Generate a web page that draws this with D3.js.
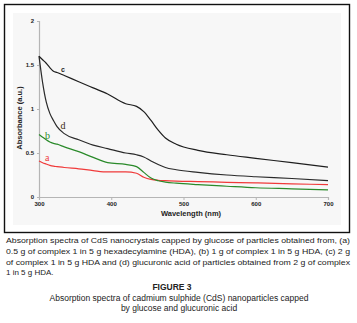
<!DOCTYPE html>
<html>
<head>
<meta charset="utf-8">
<script src="https://cdn.jsdelivr.net/npm/d3@7"></script>
<style>
  body { margin: 0; background: #fff; }
  svg { display: block; font-family: "Liberation Sans", Arial, sans-serif; }
</style>
</head>
<body>
<div id="chart"></div>
<script>
// wavelengths (nm) shared by every spectrum
const wavelengths = [300, 305, 310, 315, 320, 325, 335, 355, 375, 395, 420, 435, 445, 455, 465, 475, 490, 520, 560, 600, 650, 700];

// absorbance (a.u.)
const seriesA = [0.41, 0.39, 0.375, 0.36, 0.35, 0.345, 0.335, 0.32, 0.30, 0.285, 0.285, 0.27, 0.225, 0.20, 0.19, 0.186, 0.18, 0.175, 0.167, 0.16, 0.15, 0.14];
const seriesB = [0.71, 0.68, 0.65, 0.625, 0.61, 0.60, 0.57, 0.515, 0.45, 0.39, 0.37, 0.345, 0.28, 0.215, 0.185, 0.17, 0.157, 0.14, 0.122, 0.105, 0.093, 0.08];
const seriesC = [1.60, 1.56, 1.52, 1.47, 1.43, 1.415, 1.38, 1.31, 1.24, 1.17, 1.06, 1.03, 0.97, 0.87, 0.76, 0.67, 0.60, 0.53, 0.48, 0.44, 0.39, 0.34];
const seriesD = [1.60, 1.30, 1.08, 0.95, 0.87, 0.80, 0.72, 0.65, 0.59, 0.55, 0.50, 0.48, 0.455, 0.41, 0.37, 0.335, 0.31, 0.28, 0.25, 0.23, 0.21, 0.185];

const xTicks = [300, 400, 500, 600, 700];
const yTicks = [0, 0.5, 1, 1.5, 2];

const captionLines = [
  "Absorption spectra of CdS nanocrystals capped by glucose of particles obtained from, (a)",
  "0.5 g of complex 1 in 5 g hexadecylamine (HDA), (b) 1 g of complex 1 in 5 g HDA, (c) 2 g",
  "of complex 1 in 5 g HDA and (d) glucuronic acid of particles obtained from 2 g of complex",
  "1 in 5 g HDA."
];
const figTitle = "FIGURE 3";
const figSubtitle = [
  "Absorption spectra of cadmium sulphide (CdS) nanoparticles capped",
  "by glucose and glucuronic acid"
];

const series = [
  { name: "a", values: seriesA, color: "#f03a3a", lx: 45, ly: 161, font: "serif" },
  { name: "b", values: seriesB, color: "#2a8a2a", lx: 45, ly: 138.5, font: "serif" },
  { name: "d", values: seriesD, color: "#2a2a2a", lx: 60.5, ly: 128.5, font: "serif" },
  { name: "c", values: seriesC, color: "#1e1e1e", lx: 61, ly: 71.5, font: "sans" }
];

const width = 357, height = 323;

const svg = d3.select("#chart")
  .append("svg")
    .attr("width", width)
    .attr("height", height);

// frame + plot background
svg.append("rect")
  .attr("x", 4.5).attr("y", 4.5)
  .attr("width", 345).attr("height", 228)
  .attr("fill", "#fff")
  .attr("stroke", "#111")
  .attr("stroke-width", 1.4);

svg.append("rect")
  .attr("x", 13).attr("y", 13)
  .attr("width", 328).attr("height", 212)
  .attr("fill", "#f7f7f7");

const x = d3.scaleLinear().domain([300, 700]).range([39, 328]);
const y = d3.scaleLinear().domain([0, 2]).range([197, 21]);

// axes
const xAxis = svg.append("g")
  .attr("transform", `translate(0,${y(0)})`)
  .call(d3.axisBottom(x).tickValues(xTicks).tickSize(3).tickPadding(2));

const yAxis = svg.append("g")
  .attr("transform", `translate(${x(300)},0)`)
  .call(d3.axisLeft(y).tickValues(yTicks).tickFormat(d => d).tickSize(2).tickPadding(3));

[xAxis, yAxis].forEach(g => {
  g.select(".domain").attr("stroke", "#b5b5b5").attr("stroke-width", 1.2);
  g.selectAll(".tick line").attr("stroke", "#b5b5b5");
  g.selectAll(".tick text")
    .attr("fill", "#222")
    .style("font-size", "6px")
    .style("font-weight", "bold");
});

svg.append("text")
  .attr("x", 191).attr("y", 216)
  .attr("text-anchor", "middle")
  .style("font-size", "7.5px")
  .style("font-weight", "bold")
  .attr("fill", "#222")
  .text("Wavelength (nm)");

svg.append("text")
  .attr("transform", "translate(22,118) rotate(-90)")
  .attr("text-anchor", "middle")
  .style("font-size", "7.5px")
  .style("font-weight", "bold")
  .attr("fill", "#222")
  .text("Absorbance (a.u.)");

// spectra
const line = d3.line()
  .x((d, i) => x(wavelengths[i]))
  .y(d => y(d))
  .curve(d3.curveMonotoneX);

svg.selectAll("path.spectrum")
  .data(series)
  .join("path")
    .attr("class", "spectrum")
    .attr("d", d => line(d.values))
    .attr("fill", "none")
    .attr("stroke", d => d.color)
    .attr("stroke-width", 1.2);

svg.selectAll("text.lbl")
  .data(series)
  .join("text")
    .attr("class", "lbl")
    .attr("x", d => d.lx)
    .attr("y", d => d.ly)
    .attr("fill", d => d.name === "d" ? "#3a2a10" : d.color)
    .style("font-family", d => d.font === "serif" ? "'Liberation Serif', serif" : "'Liberation Sans', sans-serif")
    .style("font-weight", d => d.font === "serif" ? "normal" : "bold")
    .style("font-size", d => d.font === "serif" ? "10px" : "7px")
    .text(d => d.name);

// caption
svg.selectAll("text.cap")
  .data(captionLines)
  .join("text")
    .attr("class", "cap")
    .attr("x", 6)
    .attr("y", (d, i) => 243 + i * 10.8)
    .attr("fill", "#222")
    .style("font-size", "8px")
    .each(function(d, i) {
      if (i < captionLines.length - 1) {
        d3.select(this).attr("textLength", 344).attr("lengthAdjust", "spacingAndGlyphs");
      }
    })
    .text(d => d);

svg.append("text")
  .attr("x", 172).attr("y", 289.5)
  .attr("text-anchor", "middle")
  .attr("fill", "#222")
  .style("font-size", "8.5px")
  .style("font-weight", "bold")
  .text(figTitle);

svg.selectAll("text.sub")
  .data(figSubtitle)
  .join("text")
    .attr("class", "sub")
    .attr("x", 179)
    .attr("y", (d, i) => 300.5 + i * 10.3)
    .attr("text-anchor", "middle")
    .attr("fill", "#222")
    .style("font-size", "8.5px")
    .text(d => d);
</script>
</body>
</html>
